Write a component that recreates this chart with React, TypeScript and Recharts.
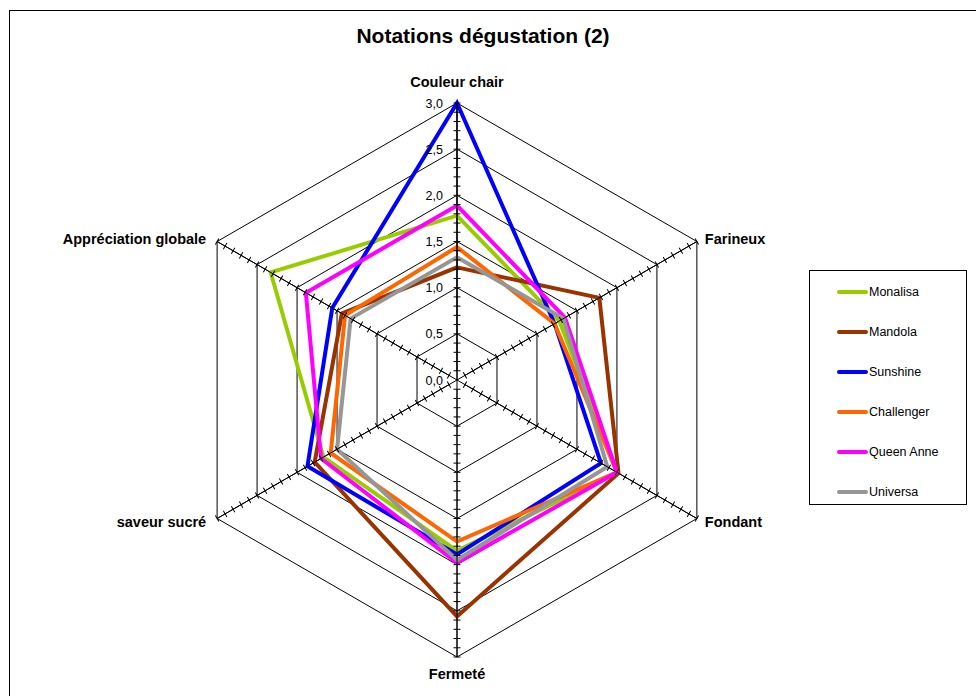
import { RadarChart, Radar, PolarGrid, PolarAngleAxis, PolarRadiusAxis, Legend } from 'recharts';

const FONT = '"Liberation Sans", Arial, sans-serif';

const categories = ['Couleur chair', 'Farineux', 'Fondant', 'Fermeté', 'saveur sucré', 'Appréciation globale'];

const monalisa = [1.78, 1.28, 2.0, 1.85, 1.67, 2.33];
const mandola = [1.22, 1.78, 2.02, 2.56, 1.78, 1.44];
const sunshine = [3.0, 1.22, 1.8, 1.89, 1.87, 1.56];
const challenger = [1.44, 1.22, 2.0, 1.75, 1.58, 1.4];
const queenAnne = [1.89, 1.35, 2.0, 1.98, 1.7, 1.89];
const universa = [1.33, 1.33, 1.88, 1.95, 1.5, 1.33];

const seriesNames = ['Monalisa', 'Mandola', 'Sunshine', 'Challenger', 'Queen Anne', 'Universa'];
const seriesColors = ['#99CC00', '#993300', '#0000FF', '#FF6600', '#FF00FF', '#969696'];
const seriesValues = [monalisa, mandola, sunshine, challenger, queenAnne, universa];

const majorTicks = [0, 0.5, 1, 1.5, 2, 2.5, 3];
const minorTicks = [
  0.1, 0.2, 0.3, 0.4, 0.5, 0.6, 0.7, 0.8, 0.9, 1, 1.1, 1.2, 1.3, 1.4, 1.5,
  1.6, 1.7, 1.8, 1.9, 2, 2.1, 2.2, 2.3, 2.4, 2.5, 2.6, 2.7, 2.8, 2.9, 3,
];

const spokeAngles = [90, 30, -30, -90, -150, 150];

const data = categories.map((subject, i) => {
  const row: Record<string, string | number> = { subject };
  seriesNames.forEach((name, s) => {
    row[name] = seriesValues[s][i];
  });
  return row;
});

// label nudges per category (top, upper right, lower right, bottom, lower left, upper left)
const labelShift = [
  { dx: 0, dy: -8 },
  { dx: 1, dy: 6 },
  { dx: 1, dy: 4 },
  { dx: 0, dy: 14 },
  { dx: -4, dy: 4 },
  { dx: -4, dy: 6 },
];

function CategoryTick(props: any) {
  const { x, y, textAnchor, payload, index } = props;
  const s = labelShift[index] || { dx: 0, dy: 0 };
  return (
    <text x={x + s.dx} y={y + s.dy} textAnchor={textAnchor} fontFamily={FONT} fontSize={14.5} fontWeight="bold" fill="#000">
      {payload.value}
    </text>
  );
}

function ValueTick(props: any) {
  const { x, y, payload } = props;
  return (
    <text x={x - 14} y={y} dy={4.5} textAnchor="end" fontFamily={FONT} fontSize={12.5} fill="#000">
      {Number(payload.value).toFixed(1).replace('.', ',')}
    </text>
  );
}

function SpokeTick(props: any) {
  const { x, y, angle } = props;
  return (
    <line
      x1={x - 3.5}
      y1={y}
      x2={x + 3.5}
      y2={y}
      stroke="#000"
      strokeWidth={1}
      transform={`rotate(${90 - angle}, ${x}, ${y})`}
    />
  );
}

function LegendBox() {
  return (
    <div style={{ border: '1px solid #000', width: 158, height: 235, boxSizing: 'border-box', paddingTop: 1, fontFamily: FONT, fontSize: 12.5 }}>
      {seriesNames.map((name, s) => (
        <div key={name} style={{ display: 'flex', alignItems: 'center', height: 40, marginLeft: 27 }}>
          <span style={{ display: 'inline-block', width: 31, height: 4, borderRadius: 2, background: seriesColors[s] }} />
          <span style={{ marginLeft: 1, color: '#000' }}>{name}</span>
        </div>
      ))}
    </div>
  );
}

export default function App() {
  return (
    <div style={{ position: 'absolute', left: 0, top: 0, width: 976, height: 696, background: '#fff', overflow: 'hidden' }}>
      <div style={{ position: 'absolute', left: 9, top: 10, width: 1000, height: 720, border: '1px solid #000', boxSizing: 'border-box' }} />
      <div style={{ position: 'absolute', left: 0, top: 24, width: 966, textAlign: 'center', fontFamily: FONT, fontSize: 21, fontWeight: 'bold', color: '#000' }}>
        Notations dégustation (2)
      </div>
      <div style={{ position: 'absolute', left: 0, top: 0 }}>
        <RadarChart
          width={976}
          height={696}
          data={data}
          cx={457}
          cy={380}
          outerRadius={277}
          startAngle={90}
          endAngle={-270}
          margin={{ top: 0, right: 0, bottom: 0, left: 0 }}
        >
          <PolarGrid gridType="polygon" stroke="#000" strokeWidth={1} strokeOpacity={1} />
          <PolarAngleAxis dataKey="subject" tick={<CategoryTick />} tickLine={false} axisLine={false} />
          <PolarRadiusAxis
            radiusAxisId={0}
            angle={90}
            type="number"
            domain={[0, 3]}
            ticks={majorTicks}
            tick={<ValueTick />}
            axisLine={{ stroke: '#000' }}
            stroke="#000"
          />
          {spokeAngles.map((a) => (
            <PolarRadiusAxis
              key={a}
              radiusAxisId={`spoke${a}`}
              angle={a}
              type="number"
              domain={[0, 3]}
              allowDataOverflow
              ticks={minorTicks}
              tick={(p: any) => <SpokeTick {...p} angle={a} />}
              axisLine={{ stroke: '#000' }}
              stroke="#000"
            />
          ))}
          {seriesNames.map((name, s) => (
            <Radar
              key={name}
              name={name}
              dataKey={name}
              stroke={seriesColors[s]}
              strokeWidth={4}
              fill="none"
              fillOpacity={0}
              dot={false}
              isAnimationActive={false}
            />
          ))}
          <Legend
            layout="vertical"
            align="center"
            verticalAlign="middle"
            content={<LegendBox />}
            wrapperStyle={{ left: 809, top: 270, width: 158, height: 235 }}
          />
        </RadarChart>
      </div>
    </div>
  );
}
